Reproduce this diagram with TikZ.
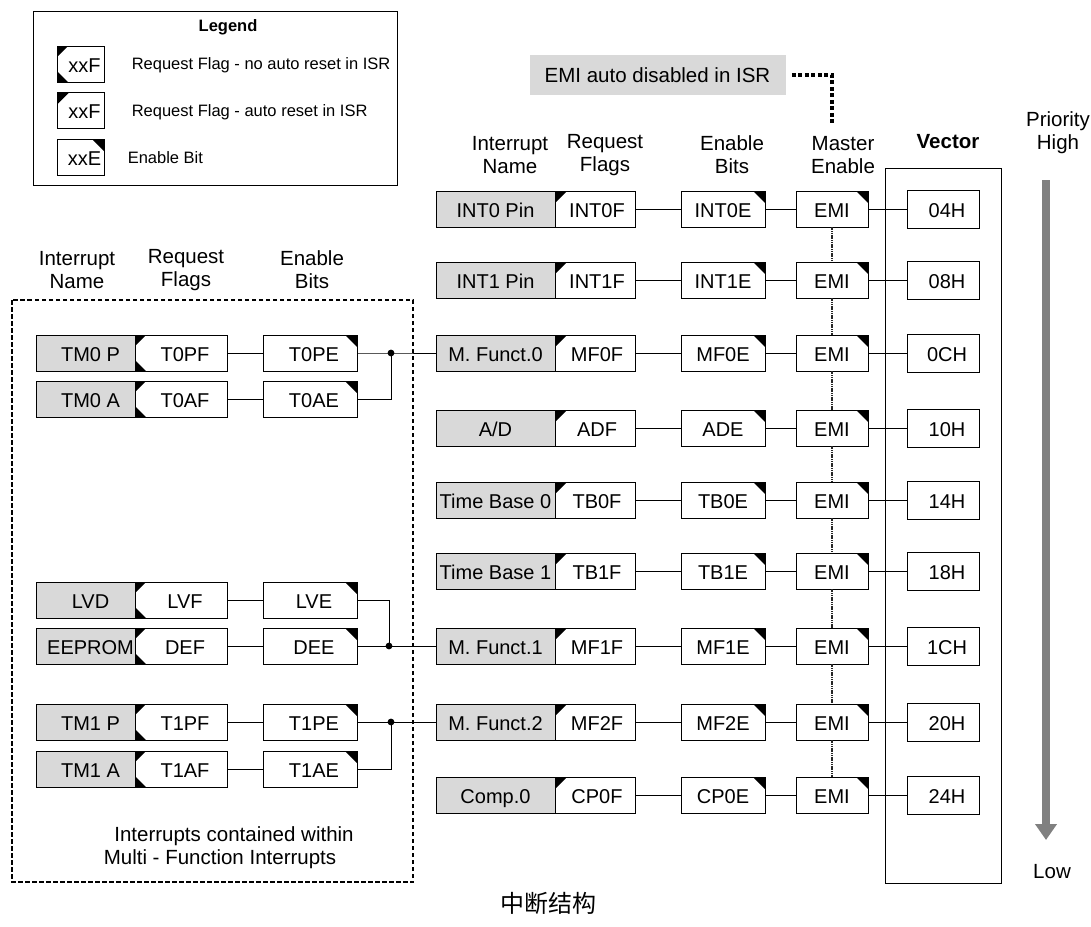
\documentclass[tikz,border=0pt]{standalone}
\usepackage{fontspec}
\setmainfont{Liberation Sans}
\newfontfamily\cjk{Noto Sans CJK SC}
\usetikzlibrary{arrows.meta}

\definecolor{boxgray}{RGB}{217,217,217}
\definecolor{arrowgray}{RGB}{128,128,128}

\newcommand{\rowfont}{\fontsize{20}{23}\selectfont}
\newcommand{\headfont}{\fontsize{20.5}{23}\selectfont}
\newcommand{\legfont}{\fontsize{16.5}{19}\selectfont}

\begin{document}
\begin{tikzpicture}[x=1pt, y=-1pt, line width=0.9pt,
  cell/.style={draw, inner sep=0pt, minimum height=36pt, text height=16pt,
    text depth=0pt, font=\rowfont},
  namebox/.style={cell, fill=boxgray, minimum width=#1},
  flagbox/.style={cell, fill=white, minimum width=#1,
    path picture={\fill[black] (path picture bounding box.north west)
      -- ++(12pt,0pt) -- ++(-12pt,-12pt) -- cycle;}},
  nflagbox/.style={cell, fill=white, minimum width=#1,
    path picture={\fill[black] (path picture bounding box.north west)
      -- ++(11pt,0pt) -- ++(-11pt,-11pt) -- cycle;
      \fill[black] (path picture bounding box.south west)
      -- ++(11pt,0pt) -- ++(-11pt,11pt) -- cycle;}},
  enbox/.style={cell, fill=white, minimum width=#1,
    path picture={\fill[black] (path picture bounding box.north east)
      -- ++(-12pt,0pt) -- ++(12pt,-12pt) -- cycle;}},
  vecbox/.style={cell, minimum width=72pt, minimum height=38pt},
  head/.style={align=center, font=\headfont},
  legtext/.style={anchor=west, font=\legfont},
  emilink/.style={line width=2.6pt, black!85, dash pattern=on 1.2pt off 0.6pt},
  isrlink/.style={line width=4pt, dash pattern=on 4pt off 2.5pt},
  mfbox/.style={line width=1.6pt, dash pattern=on 4.5pt off 2.5pt},
  prioarrow/.style={line width=8pt, arrowgray, -{Triangle[width=21pt,length=16pt]}}
]
  \useasboundingbox (0,0) rectangle (1091,926);

  % --- Legend ---
  \draw (33,11) rectangle (397,185);
  \node[font=\legfont\bfseries] (lgtitle) at (228,27) {Legend};
  \node[nflagbox=47pt] (lg1) at (80.5,64) {\hspace*{8pt}xxF};
  \node[flagbox=47pt] (lg2) at (80.5,110.5) {\hspace*{8pt}xxF};
  \node[enbox=47pt] (lg3) at (80.5,157) {\hspace*{8pt}xxE};
  \node[legtext] (lgt1) at (128,65) {Request Flag - no auto reset in ISR};
  \node[legtext] (lgt2) at (128,112) {Request Flag - auto reset in ISR};
  \node[legtext] (lgt3) at (124,158) {Enable Bit};

  % --- EMI note ---
  \node[fill=boxgray, minimum width=256pt, minimum height=40pt, font=\headfont]
        (isr) at (657.5,75) {EMI auto disabled in ISR};
  \coordinate (isrend) at (832,123);
  \draw[isrlink] ([xshift=6pt]isr.east) -| (isrend);

  % --- Headers ---
  \node[head] (hname) at (510,155) {Interrupt\\Name};
  \node[head] (hflag) at (605,155) {Request\\Flags};
  \node[head] (hen) at (732,155) {Enable\\Bits};
  \node[head] (hmaster) at (843,155) {Master\\Enable};
  \node[font=\headfont\bfseries] (hvec) at (948,142) {Vector};
  \node[head] (hprio) at (1058,133) {Priority\\High};
  \node[head] (hlow) at (1052,872) {Low};

  \node[head] (lhname) at (77,270) {Interrupt\\Name};
  \node[head] (lhflag) at (186,270) {Request\\Flags};
  \node[head] (lhen) at (312,270) {Enable\\Bits};

  % --- Vector frame ---
  \draw (885,168) rectangle (1001,883);

  % --- Interrupt rows ---
  \foreach \y/\nm/\fl/\en/\vc [count=\i] in {
      209/INT0 Pin/INT0F/INT0E/04H,
      280/INT1 Pin/INT1F/INT1E/08H,
      353/M. Funct.0/MF0F/MF0E/0CH,
      428/{A/D}/ADF/ADE/10H,
      500/Time Base 0/TB0F/TB0E/14H,
      571/Time Base 1/TB1F/TB1E/18H,
      646/M. Funct.1/MF1F/MF1E/1CH,
      722/M. Funct.2/MF2F/MF2E/20H,
      795/Comp.0/CP0F/CP0E/24H} {
    \node[namebox=119pt] (nm\i) at (495.5,\y) {\nm};
    \node[flagbox=80pt] (fl\i) at (595,\y) {\hspace*{4pt}\fl};
    \node[enbox=84pt] (en\i) at (723,\y) {\en};
    \node[enbox=72pt] (emi\i) at (832,\y) {EMI};
    \node[vecbox] (vec\i) at (943,\y) {\hspace*{8pt}\vc};
    \draw (fl\i) -- (en\i);
    \draw (en\i) -- (emi\i);
    \draw (emi\i) -- (vec\i);
  }

  % --- Master enable chain ---
  \foreach \a/\b in {1/2,2/3,3/4,4/5,5/6,6/7,7/8,8/9}
    \draw[emilink] (emi\a.south) -- (emi\b.north);

  % --- Multi-function sources ---
  \draw[mfbox] (12,300) rectangle (413,882);

  \foreach \y/\nm/\fl/\en [count=\i] in {
      353/TM0 P/T0PF/T0PE,
      399/TM0 A/T0AF/T0AE,
      600/LVD/LVF/LVE,
      646/EEPROM/DEF/DEE,
      722/TM1 P/T1PF/T1PE,
      769/TM1 A/T1AF/T1AE} {
    \node[namebox=99pt] (lnm\i) at (85.5,\y) {\hspace*{10pt}\nm};
    \node[nflagbox=92pt] (lfl\i) at (181,\y) {\hspace*{8pt}\fl};
    \node[enbox=94pt] (len\i) at (310,\y) {\hspace*{8pt}\en};
    \draw (lfl\i) -- (len\i);
  }

  \coordinate (j1) at (391,353);
  \coordinate (j2) at (389,646);
  \coordinate (j3) at (391,722);
  \draw (len1) -- (j1) -- (nm3);
  \draw (len2.east) -| (j1);
  \draw (len3.east) -| (j2);
  \draw (len4) -- (j2) -- (nm7);
  \draw (len5) -- (j3) -- (nm8);
  \draw (len6.east) -| (j3);
  \foreach \j in {j1,j2,j3}
    \fill (\j) circle (3.4pt);

  \node[font=\headfont] (mfnote1) at (234,836) {Interrupts contained within};
  \node[font=\headfont] (mfnote2) at (220,859) {Multi - Function Interrupts};

  % --- Priority arrow ---
  \coordinate (phigh) at (1046,180);
  \coordinate (plow) at (1046,840);
  \draw[prioarrow] (phigh) -- (plow);

  % --- Caption ---
  \node[font=\cjk\fontsize{24}{27}\selectfont] (caption) at (548,903) {中断结构};
\end{tikzpicture}
\end{document}
